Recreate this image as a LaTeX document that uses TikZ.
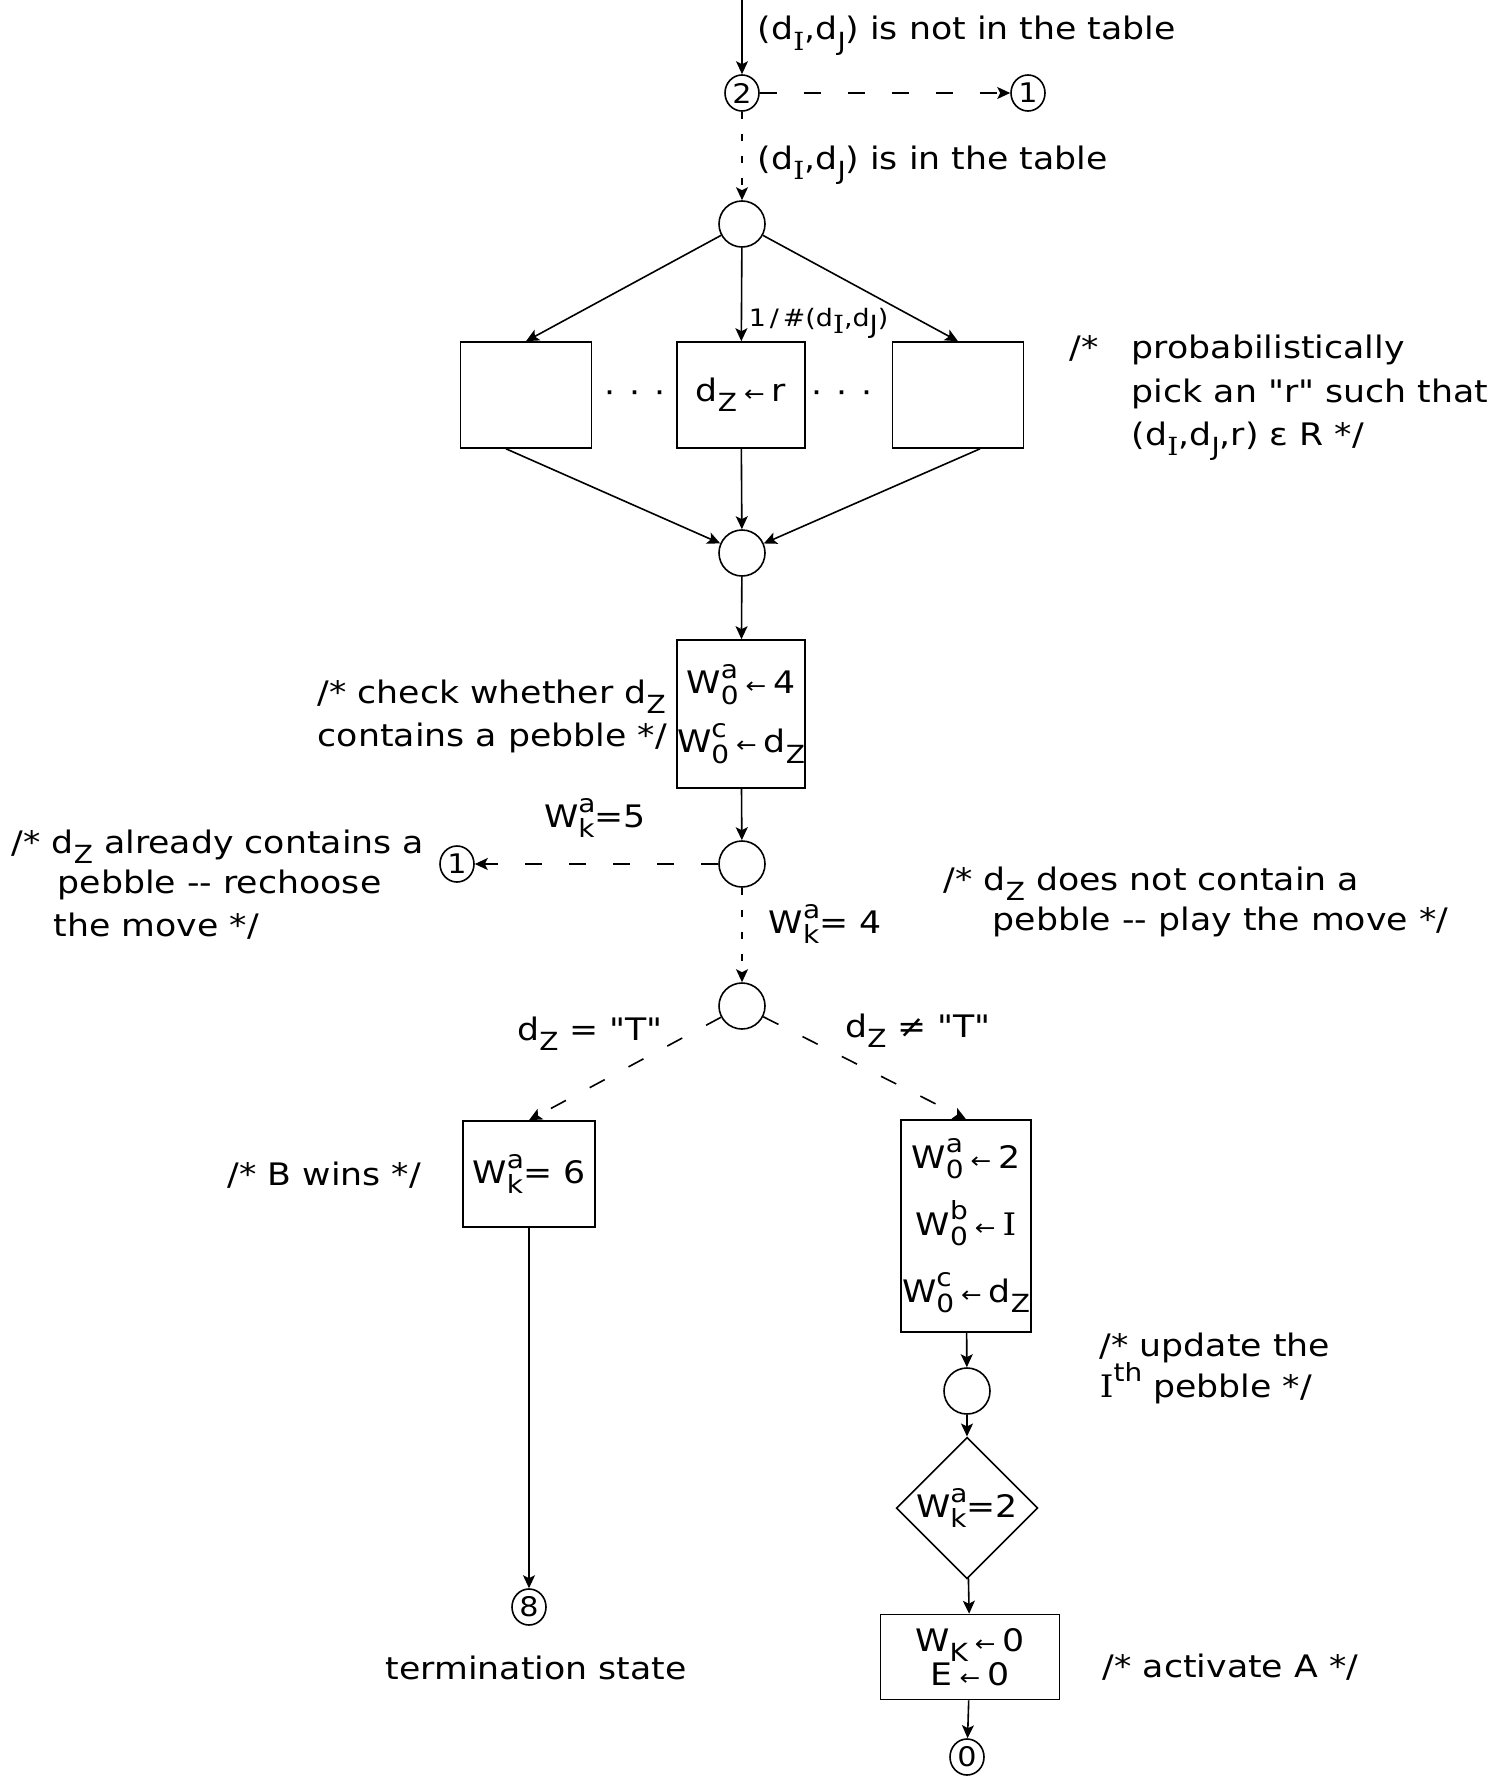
\documentclass[tikz,border=0pt]{standalone}
\usepackage{fontspec}
\setmainfont{DejaVu Sans}[FakeStretch=1.12]
\newfontfamily\serI{DejaVu Serif}[FakeStretch=1.12]
\newfontfamily\qf{DejaVu Sans}[FakeStretch=1.12]
\usetikzlibrary{arrows.meta,shapes.geometric}
\newcommand\sbs[1]{\raisebox{-0.33em}{\fontsize{25}{25}\selectfont #1}}
\newcommand\sps[1]{\raisebox{0.5em}{\fontsize{25}{25}\selectfont #1}}
\newcommand\spsb[2]{\makebox[0pt][l]{\sps{#1}}\sbs{#2}}
\newcommand\II{{\serI I}}
\newcommand\la{\hspace{7pt}{\fontsize{22}{22}\selectfont ←}\hspace{7pt}}
\newcommand\qq{{\qf\char"22}}
\begin{document}
\begin{tikzpicture}[x=1pt,y=-1pt,
  every node/.style={font=\fontsize{31}{31}\selectfont, inner sep=0pt},
  line width=1.6pt,
  circ/.style={draw, circle, minimum size=46pt},
  scirc/.style={draw, ellipse, minimum width=34pt, minimum height=36pt, font=\fontsize{27}{27}\selectfont},
  box/.style={draw, rectangle, align=center},
  txt/.style={anchor=base west},
  arr/.style={-{Stealth[length=13pt,width=12pt,inset=3pt]}},
  ldash/.style={dash pattern=on 17pt off 27pt},
  sdash/.style={dash pattern=on 7pt off 15pt}]
\useasboundingbox (0,0) rectangle (1495,1777);
% nodes
\coordinate (top) at (742,0);
\node[scirc] (c2) at (742,93) {2};
\node[scirc] (c1a) at (1028,93) {1};
\node[circ] (A) at (742,224) {};
\node[box, minimum width=131pt, minimum height=106pt] (L) at (526,395) {};
\node[box, minimum width=128pt, minimum height=106pt] (M) at (741,395) {d\sbs{Z}\la r};
\node[box, minimum width=131pt, minimum height=106pt] (R) at (958,395) {};
\node (dl) at (635,397) {·\hspace{14pt}·\hspace{14pt}·};
\node (dr) at (842,397) {·\hspace{14pt}·\hspace{14pt}·};
\node[circ] (B) at (742,553) {};
\node[box, minimum width=128pt, minimum height=148pt, font=\fontsize{31}{59}\selectfont] (C) at (741,714)
  {W\spsb{a}{0}\la 4\\W\spsb{c}{0}\la d\sbs{Z}};
\node[circ] (D) at (742,864) {};
\node[scirc] (c1b) at (457,864) {1};
\node[circ] (E) at (742,1006) {};
\node[box, minimum width=132pt, minimum height=106pt] (F) at (529,1174) {W\spsb{a}{k}= 6};
\node[scirc] (c8) at (529,1607) {8};
\node[box, minimum width=130pt, minimum height=212pt, font=\fontsize{31}{67}\selectfont] (G) at (966,1226)
  {W\spsb{a}{0}\la 2\\W\spsb{b}{0}\la \II\\W\spsb{c}{0}\la d\sbs{Z}};
\node[circ] (H) at (967,1391) {};
\node[draw, diamond, minimum width=134pt, minimum height=128pt] (Dm) at (967,1508) {W\spsb{a}{k}=2};
\node[box, minimum width=179pt, minimum height=85pt, font=\fontsize{31}{33}\selectfont] (I) at (970,1657)
  {W\sbs{K}\la 0\\E\la 0};
\node[scirc] (c0) at (967,1757) {0};
% labels
\node[txt] (l1) at (757,40) {(d\sbs{\II},d\sbs{J}) is not in the table};
\node[txt] (l2) at (757,169) {(d\sbs{\II},d\sbs{J}) is in the table};
\node[txt, font=\fontsize{24}{24}\selectfont] (l3) at (748,326) {1\,/\,\#(d\sbs{\II},d\sbs{J})};
\node[txt] (p1) at (1069,358) {/*\hspace{33pt}probabilistically};
\node[txt] (p2) at (1131,402) {pick an \qq r\qq{} such that};
\node[txt] (p3) at (1131,445) {(d\sbs{\II},d\sbs{J},r) ε R */};
\node[txt] (k1) at (317,703) {/* check whether d\sbs{Z}};
\node[txt] (k2) at (317,746) {contains a pebble */};
\node (w5) at (595,818) {W\spsb{a}{k}=5};
\node[txt] (a1) at (11,853) {/* d\sbs{Z} already contains a};
\node[txt] (a2) at (57,893) {pebble -{}- rechoose};
\node[txt] (a3) at (53,936) {the move */};
\node[anchor=west] (w4) at (768,924) {W\spsb{a}{k}= 4};
\node[txt] (n1) at (943,890) {/* d\sbs{Z} does not contain a};
\node[txt] (n2) at (992,930) {pebble -{}- play the move */};
\node (eq) at (590,1034) {d\sbs{Z} = \qq T\qq};
\node (ne) at (918,1031) {d\sbs{Z} ≠ \qq T\qq};
\node[txt] (bw) at (227,1185) {/* B wins */};
\node[txt] (ts) at (385,1679) {termination state};
\node[txt] (u1) at (1099,1356) {/* update the};
\node[txt] (u2) at (1099,1397) {\II\sps{th} pebble */};
\node[txt] (ac) at (1102,1677) {/* activate A */};
% connectors
\draw[arr] (top) -- (c2);
\draw[arr, ldash] (c2) -- (c1a);
\draw[arr, sdash] (c2) -- (A);
\draw[arr] (A) -- (L.north);
\draw[arr] (A) -- (M);
\draw[arr] (A) -- (R.north);
\draw[arr] ([xshift=-20pt]L.south) -- (B);
\draw[arr] (M) -- (B);
\draw[arr] ([xshift=22pt]R.south) -- (B);
\draw[arr] (B) -- (C);
\draw[arr] (C) -- (D);
\draw[arr, ldash] (D) -- (c1b);
\draw[arr, sdash] (D) -- (E);
\draw[arr, ldash] (E) -- (F.north);
\draw[arr, ldash] (E) -- (G.north);
\draw[arr] (F) -- (c8);
\draw[arr] (G) -- (H);
\draw[arr] (H) -- (Dm);
\draw[arr] (Dm) -- (I);
\draw[arr] (I) -- (c0);
\end{tikzpicture}
\end{document}
